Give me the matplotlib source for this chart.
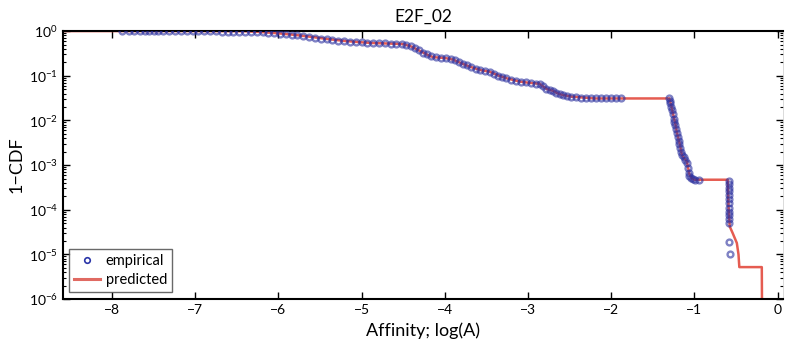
import numpy as np
import matplotlib.pyplot as plt
from matplotlib.ticker import LogLocator, NullFormatter
from matplotlib.lines import Line2D

plt.rcParams['font.family'] = ['Lato', 'DejaVu Sans']
plt.rcParams['mathtext.fontset'] = 'custom'
plt.rcParams['mathtext.rm'] = 'Lato'

# predicted curve (x = log affinity, y = 1-CDF)
pred_x = [-8.6, -7.0, -6.4, -6.2, -6.0, -5.8, -5.6, -5.4, -5.2, -5.0, -4.86, -4.6, -4.5,
          -4.4, -4.3, -4.2, -4.14, -4.0, -3.9, -3.8, -3.7, -3.58, -3.46, -3.35, -3.25,
          -3.1, -3.0, -2.86, -2.82, -2.77, -2.70, -2.64, -2.58, -2.48, -2.38, -2.2,
          -1.98, -1.30, -1.28, -1.26, -1.23, -1.21, -1.18, -1.15, -1.12, -1.09, -1.06,
          -1.03, -1.0, -0.60, -0.59, -0.575, -0.54, -0.49, -0.47, -0.46, -0.19, -0.185]
pred_y = [1.0, 1.0, 0.99, 0.95, 0.89, 0.82, 0.74, 0.66, 0.60, 0.56, 0.54, 0.52, 0.51,
          0.45, 0.36, 0.29, 0.26, 0.25, 0.23, 0.19, 0.16, 0.135, 0.123, 0.10, 0.087,
          0.074, 0.070, 0.066, 0.058, 0.050, 0.046, 0.040, 0.037, 0.034, 0.033, 0.031,
          0.031, 0.031, 0.022, 0.015, 0.0085, 0.0054, 0.0032, 0.0017, 0.0014, 0.0012,
          0.00062, 0.0005, 0.00047, 0.00047, 0.00012, 4.2e-5, 3.0e-5, 1.8e-5, 1.0e-5,
          5.2e-6, 5.2e-6, 1e-7]

# empirical points
emp_x = [-7.88, -7.80, -7.74, -7.66, -7.60, -7.55, -7.50, -7.45, -7.38, -7.31, -7.24,
         -7.17, -7.10, -7.03, -6.96, -6.89, -6.82, -6.75, -6.68, -6.61, -6.54, -6.47,
         -6.40, -6.33, -6.26, -6.19, -6.12, -6.05, -5.98, -5.91, -5.84, -5.77, -5.70,
         -5.63, -5.56, -5.49, -5.42, -5.35, -5.28, -5.21, -5.14, -5.07, -5.00, -4.93,
         -4.86, -4.79, -4.72, -4.65, -4.58, -4.51, -4.46, -4.41, -4.36, -4.31, -4.26,
         -4.21, -4.16, -4.10, -4.04, -3.98, -3.93, -3.88, -3.83, -3.78, -3.73, -3.68,
         -3.63, -3.58, -3.52, -3.46, -3.41, -3.36, -3.31, -3.26, -3.20, -3.14, -3.08,
         -3.02, -2.96, -2.90, -2.86, -2.82, -2.78, -2.74, -2.70, -2.66, -2.62, -2.58,
         -2.53, -2.48, -2.42, -2.36, -2.30, -2.24, -2.18, -2.12, -2.06, -2.00, -1.94,
         -1.88,
         -1.30, -1.295, -1.29, -1.28, -1.27, -1.26, -1.25, -1.24, -1.23, -1.22, -1.21,
         -1.20, -1.19, -1.18, -1.17, -1.16, -1.15, -1.13, -1.11, -1.09, -1.08, -1.07,
         -1.06, -1.04, -1.02, -0.99, -0.95,
         -0.59, -0.59, -0.59, -0.59, -0.588, -0.588, -0.586, -0.585, -0.584, -0.583,
         -0.582, -0.58, -0.58, -0.578]
emp_y = [1.0, 1.0, 1.0, 1.0, 1.0, 1.0, 1.0, 1.0, 1.0, 0.995, 0.995,
         0.99, 0.99, 0.99, 0.985, 0.985, 0.98, 0.98, 0.975, 0.97, 0.97, 0.965,
         0.96, 0.95, 0.94, 0.93, 0.91, 0.89, 0.87, 0.85, 0.83, 0.80, 0.77,
         0.74, 0.71, 0.68, 0.66, 0.63, 0.61, 0.60, 0.58, 0.57, 0.56, 0.55,
         0.54, 0.535, 0.53, 0.525, 0.52, 0.51, 0.49, 0.46, 0.42, 0.37, 0.33,
         0.30, 0.27, 0.26, 0.255, 0.25, 0.24, 0.225, 0.20, 0.185, 0.17, 0.155,
         0.145, 0.135, 0.13, 0.123, 0.11, 0.10, 0.093, 0.087, 0.081, 0.076, 0.073,
         0.071, 0.069, 0.067, 0.065, 0.058, 0.051, 0.048, 0.046, 0.042, 0.039, 0.037,
         0.035, 0.034, 0.033, 0.0325, 0.032, 0.0315, 0.031, 0.031, 0.031, 0.031, 0.031,
         0.031,
         0.031, 0.027, 0.024, 0.020, 0.017, 0.014, 0.011, 0.0092, 0.0078, 0.0064, 0.0052,
         0.0043, 0.0035, 0.0029, 0.0024, 0.0020, 0.0017, 0.0015, 0.0013, 0.0011, 0.00085, 0.00068,
         0.00058, 0.00052, 0.00049, 0.00047, 0.00046,
         0.00045, 0.00038, 0.00031, 0.00026, 0.00021, 0.00017, 0.00014, 0.00011, 9e-5, 7.5e-5,
         6.2e-5, 5.1e-5, 1.9e-5, 1.0e-5]

xticks = [-8, -7, -6, -5, -4, -3, -2, -1, 0]
yticks = [1e-6, 1e-5, 1e-4, 1e-3, 1e-2, 1e-1, 1]

fig = plt.figure(figsize=(7.85, 3.49), dpi=100)
ax = fig.add_axes([0.080, 0.143, 0.918, 0.768])

ax.plot(pred_x, pred_y, color='#e34a3e', lw=1.8, alpha=0.9, zorder=2)
ax.plot(emp_x, emp_y, 'o', ls='none', ms=4.2, mfc='none', mec='#2a2f9e',
        mew=1.7, alpha=0.6, zorder=3)

ax.set_yscale('log')
ax.set_xlim(-8.59, 0.07)
ax.set_ylim(1e-6, 1)
ax.set_xticks(xticks)
ax.set_xticklabels(['\u2212%d' % -t if t < 0 else '0' for t in xticks])
ax.set_yticks(yticks)
ax.set_yticklabels(['$10^{%d}$' % e for e in range(-6, 1)])
minor = [m * 10.0 ** e for e in range(-6, 0) for m in range(2, 10)]
ax.set_yticks(minor, minor=True)
ax.yaxis.set_minor_formatter(NullFormatter())

ax.tick_params(which='both', direction='in', top=True, right=True, labelsize=10)
ax.tick_params(which='major', length=5, width=1)
ax.tick_params(which='minor', length=2.5, width=0.8)
for s in ['left', 'bottom', 'top']:
    ax.spines[s].set_linewidth(1.5)
ax.spines['right'].set_linewidth(0.5)
ax.spines['right'].set_color('#cccccc')

ax.set_title('E2F_02', fontsize=12.5, pad=7)
ax.set_xlabel('Affinity; log(A)', fontsize=13, labelpad=5)
ax.set_ylabel('1\u2212CDF', fontsize=13, labelpad=3)

handles = [Line2D([], [], marker='o', ls='none', ms=4, mfc='none', mec='#2a35a8', mew=1.2),
           Line2D([], [], color='#e06a62', lw=2.2)]
leg = ax.legend(handles, ['empirical', 'predicted'], loc='lower left', fontsize=10.5,
                frameon=True, fancybox=False, edgecolor='#444444', borderpad=0.35,
                handlelength=1.8, handletextpad=0.4, labelspacing=0.3,
                bbox_to_anchor=(-0.002, 0.0))
leg.get_frame().set_linewidth(1.0)

fig.savefig('out.png', dpi=100)
